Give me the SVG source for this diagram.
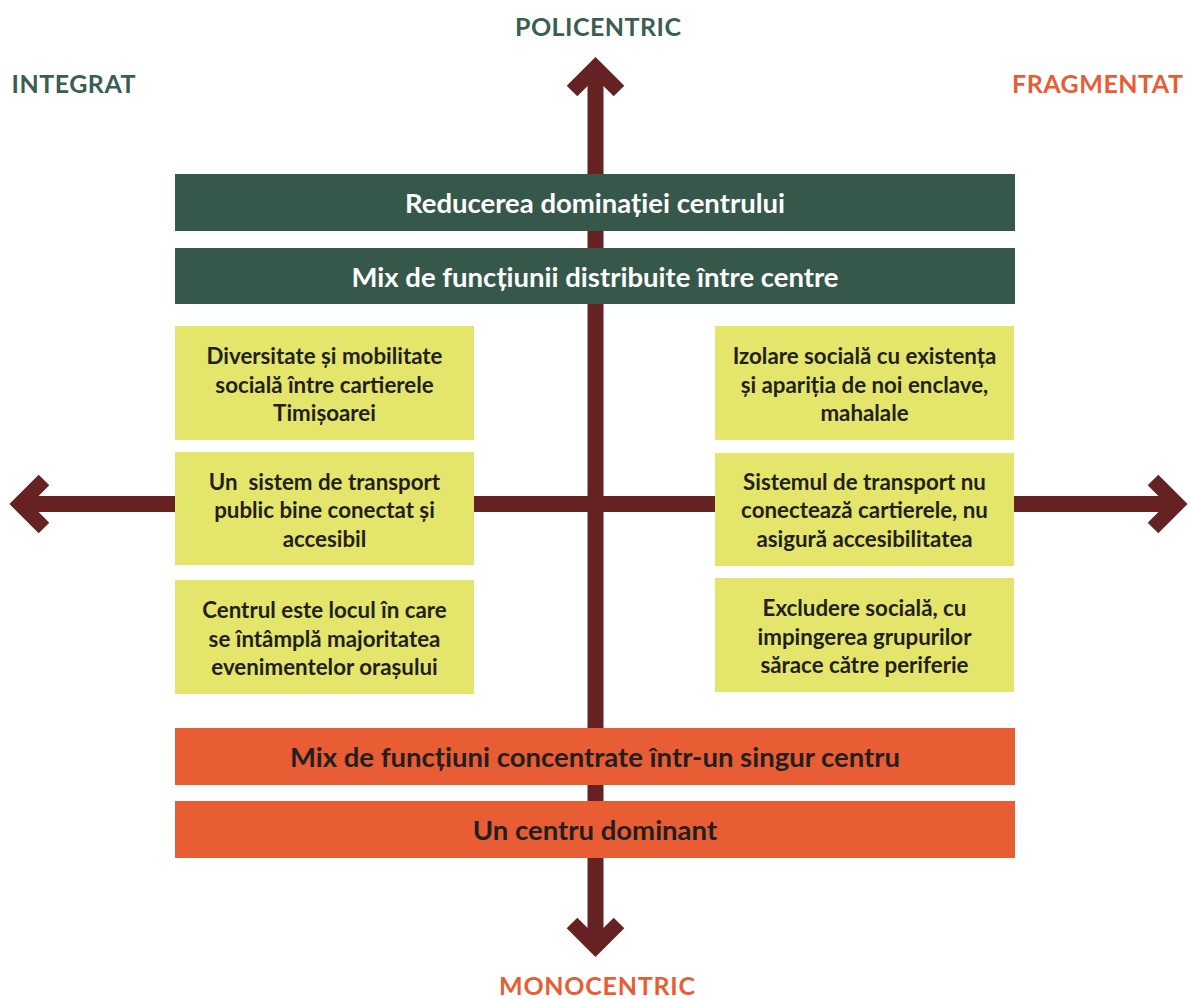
<svg xmlns="http://www.w3.org/2000/svg" width="1192" height="999" viewBox="0 0 1192 999">
<style>
  text { font-family: Lato, "Open Sans", "Liberation Sans", sans-serif; font-weight: bold; text-anchor: middle; }
  .title { font-size: 25px; letter-spacing: 1px; }
  .green-t { fill: #3A5E4F; }
  .orange-t { fill: #E85D34; }
  .bar-g { fill: #35584B; }
  .bar-o { fill: #E85D34; }
  .box { fill: #E4E56B; }
  .bartext-w { font-size: 27.5px; fill: #FFFFFF; }
  .bartext-d { font-size: 27.5px; fill: #231F20; }
  .boxtext { font-size: 22.3px; fill: #231F20; }
  .shaft { stroke: #662223; stroke-width: 16; fill: none; }
  .head { stroke: #662223; stroke-width: 15; fill: none; stroke-linejoin: miter; stroke-miterlimit: 10; stroke-linecap: butt; }
</style>
<rect width="1192" height="999" fill="#FFFFFF"/>

<g id="connectors">
  <line class="shaft" x1="595.5" y1="66" x2="595.5" y2="948"/>
  <polyline class="head" points="572,91 595.5,67.6 619,91"/>
  <polyline class="head" points="572,923 595.5,946.4 619,923"/>
  <line class="shaft" x1="19" y1="504" x2="1178" y2="504"/>
  <polyline class="head" points="44,480 20,504 44,528"/>
  <polyline class="head" points="1153,480 1177,504 1153,528"/>
</g>

<g id="label-policentric">
  <text class="title green-t" x="598.5" y="36" textLength="167" lengthAdjust="spacing">POLICENTRIC</text>
</g>
<g id="label-integrat">
  <text class="title green-t" x="74" y="93" textLength="125" lengthAdjust="spacing">INTEGRAT</text>
</g>
<g id="label-fragmentat">
  <text class="title orange-t" x="1098" y="93" textLength="172" lengthAdjust="spacing">FRAGMENTAT</text>
</g>
<g id="label-monocentric">
  <text class="title orange-t" x="597.5" y="995" textLength="197" lengthAdjust="spacing">MONOCENTRIC</text>
</g>

<g id="bar-reducerea">
  <rect class="bar-g" x="175" y="174" width="840" height="57"/>
  <text class="bartext-w" x="595" y="213">Reducerea dominației centrului</text>
</g>
<g id="bar-mix-distribuite">
  <rect class="bar-g" x="175" y="248" width="840" height="56"/>
  <text class="bartext-w" x="595" y="287">Mix de funcțiunii distribuite între centre</text>
</g>

<g id="box-diversitate">
  <rect class="box" x="175" y="326" width="299" height="114"/>
  <text class="boxtext" x="324.5" y="364">Diversitate și mobilitate</text>
  <text class="boxtext" x="324.5" y="392.5">socială între cartierele</text>
  <text class="boxtext" x="324.5" y="421">Timișoarei</text>
</g>
<g id="box-transport-public">
  <rect class="box" x="175" y="452" width="299" height="113"/>
  <text class="boxtext" x="324.5" y="489.5" style="white-space:pre">Un  sistem de transport</text>
  <text class="boxtext" x="324.5" y="518">public bine conectat și</text>
  <text class="boxtext" x="324.5" y="546.5">accesibil</text>
</g>
<g id="box-centrul">
  <rect class="box" x="175" y="580" width="299" height="114"/>
  <text class="boxtext" x="324.5" y="618">Centrul este locul în care</text>
  <text class="boxtext" x="324.5" y="646.5">se întâmplă majoritatea</text>
  <text class="boxtext" x="324.5" y="675">evenimentelor orașului</text>
</g>

<g id="box-izolare">
  <rect class="box" x="715" y="326" width="299" height="114"/>
  <text class="boxtext" x="864.5" y="364">Izolare socială cu existența</text>
  <text class="boxtext" x="864.5" y="392.5">și apariția de noi enclave,</text>
  <text class="boxtext" x="864.5" y="421">mahalale</text>
</g>
<g id="box-sistemul">
  <rect class="box" x="715" y="453" width="299" height="113"/>
  <text class="boxtext" x="864.5" y="489.5">Sistemul de transport nu</text>
  <text class="boxtext" x="864.5" y="518">conectează cartierele, nu</text>
  <text class="boxtext" x="864.5" y="546.5">asigură accesibilitatea</text>
</g>
<g id="box-excludere">
  <rect class="box" x="715" y="578" width="299" height="114"/>
  <text class="boxtext" x="864.5" y="616">Excludere socială, cu</text>
  <text class="boxtext" x="864.5" y="644.5">impingerea grupurilor</text>
  <text class="boxtext" x="864.5" y="673">sărace către periferie</text>
</g>

<g id="bar-mix-concentrate">
  <rect class="bar-o" x="175" y="728" width="840" height="57"/>
  <text class="bartext-d" x="595" y="767">Mix de funcțiuni concentrate într-un singur centru</text>
</g>
<g id="bar-un-centru">
  <rect class="bar-o" x="175" y="801" width="840" height="57"/>
  <text class="bartext-d" x="595" y="840">Un centru dominant</text>
</g>
</svg>
